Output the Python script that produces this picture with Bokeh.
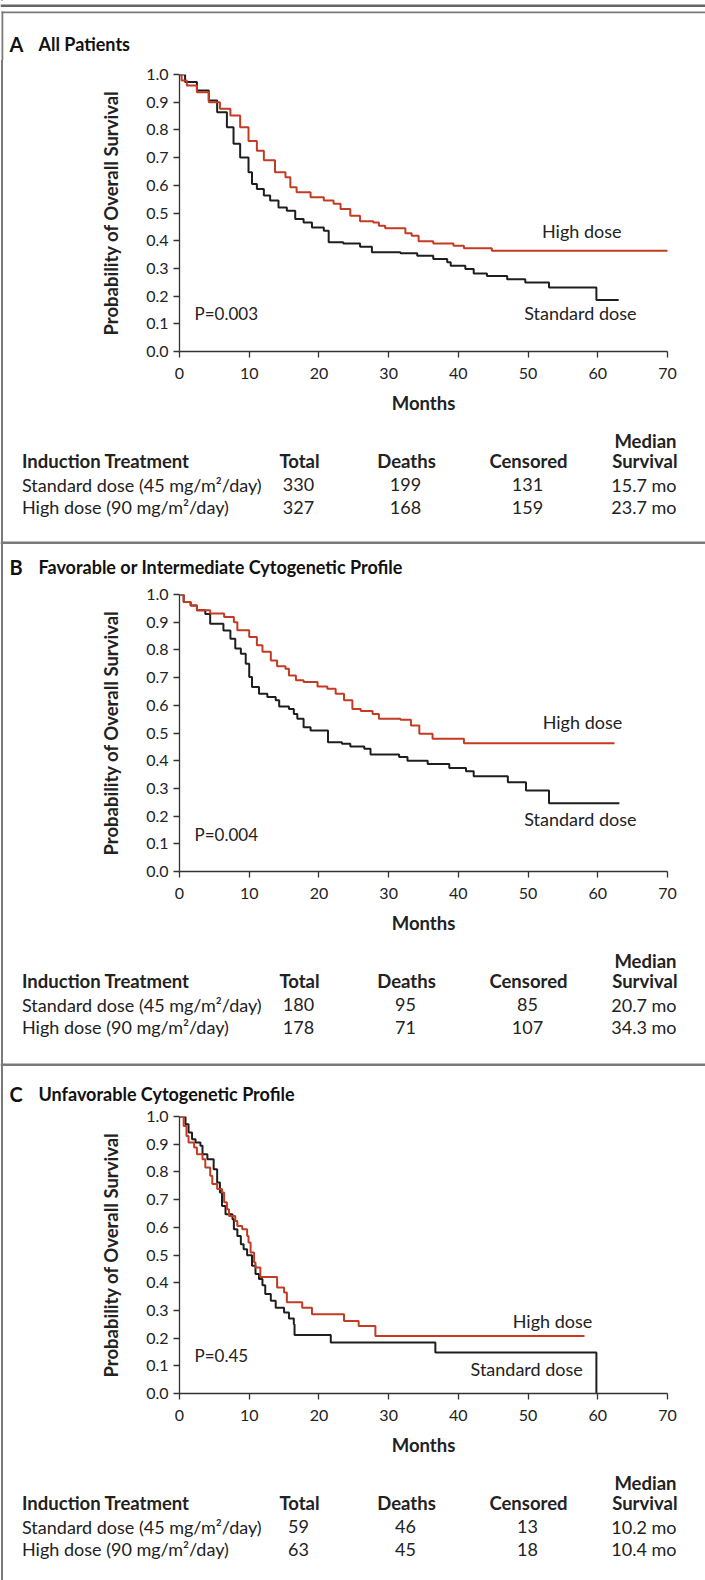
from bokeh.plotting import figure
from bokeh.layouts import column
from bokeh.models import FixedTicker, NumeralTickFormatter, Range1d, Label
from bokeh.core.properties import value
from bokeh.embed import file_html
from bokeh.resources import INLINE

FONT = "Lato"
RED = "#c23b22"
BLACK = "#1e1e1e"
TEXT = "#222222"
RULE = "#7a7a7a"

MONTH_TICKS = [0, 10, 20, 30, 40, 50, 60, 70]
PROB_TICKS = [0.0, 0.1, 0.2, 0.3, 0.4, 0.5, 0.6, 0.7, 0.8, 0.9, 1.0]

# ---- Panel A: All patients ----
A_STD_T = [0, 0.8, 2.5, 4.2, 5.4, 6.8, 7.75, 8.7, 9.9, 10.4, 11.1, 12.1, 13.0, 14.2, 15.4, 16.6, 17.8,
           19.0, 20.7, 21.4, 23.5, 25.9, 27.6, 31.7, 34.1, 36.4, 38.4, 38.9, 41.0, 42.2, 44.1, 47.0,
           49.6, 53.0, 59.8, 63.0]
A_STD_S = [1.0, 0.973, 0.942, 0.906, 0.864, 0.81, 0.75, 0.70, 0.647, 0.605, 0.587, 0.563, 0.545, 0.52,
           0.508, 0.478, 0.466, 0.448, 0.436, 0.394, 0.39, 0.378, 0.358, 0.355, 0.346, 0.334, 0.322,
           0.31, 0.298, 0.282, 0.273, 0.261, 0.249, 0.231, 0.186, 0.186]
A_HIGH_T = [0, 0.3, 1.05, 2.5, 4.2, 5.8, 7.3, 8.7, 9.9, 11.1, 12.1, 13.7, 15.2, 15.9, 16.8, 18.8, 20.7,
            22.1, 23.1, 24.5, 25.9, 27.8, 28.6, 29.5, 32.4, 33.3, 34.3, 36.4, 39.3, 40.8, 44.8, 70.3]
A_HIGH_S = [1.0, 0.978, 0.96, 0.936, 0.90, 0.876, 0.852, 0.81, 0.76, 0.725, 0.69, 0.647, 0.629, 0.593,
            0.575, 0.557, 0.545, 0.533, 0.514, 0.49, 0.47, 0.466, 0.454, 0.445, 0.427, 0.418, 0.398,
            0.39, 0.382, 0.373, 0.364, 0.364]
A_TOTAL = [330, 327]
A_DEATHS = [199, 168]
A_CENSORED = [131, 159]
A_MEDIAN = ["15.7 mo", "23.7 mo"]

# ---- Panel B: Favorable or intermediate ----
B_STD_T = [0, 0.6, 1.6, 2.5, 3.7, 4.4, 6.3, 7.3, 8.0, 8.8, 9.5, 10.0, 10.4, 11.4, 12.6, 13.8, 14.3, 15.7,
           16.4, 16.9, 17.8, 18.8, 21.3, 23.3, 24.5, 26.5, 27.4, 31.5, 32.7, 35.6, 38.7, 41.1, 42.2,
           47.1, 49.7, 53.0, 63.1]
B_STD_S = [1.0, 0.973, 0.96, 0.943, 0.93, 0.894, 0.87, 0.84, 0.805, 0.786, 0.75, 0.702, 0.666, 0.642,
           0.63, 0.618, 0.596, 0.587, 0.569, 0.551, 0.521, 0.509, 0.467, 0.461, 0.451, 0.443, 0.422,
           0.413, 0.40, 0.388, 0.374, 0.362, 0.344, 0.322, 0.292, 0.246, 0.246]
B_HIGH_T = [0, 0.6, 1.6, 2.5, 4.4, 6.4, 7.8, 8.3, 10.0, 11.1, 11.9, 13.1, 14.0, 15.2, 15.7, 16.7, 17.8,
            19.8, 21.2, 22.4, 23.6, 24.8, 26.0, 27.7, 28.6, 31.7, 33.2, 34.4, 36.3, 40.8, 62.4]
B_HIGH_S = [1.0, 0.973, 0.96, 0.943, 0.931, 0.919, 0.9, 0.871, 0.847, 0.817, 0.793, 0.762, 0.741, 0.732,
            0.708, 0.69, 0.684, 0.668, 0.66, 0.642, 0.618, 0.587, 0.579, 0.569, 0.551, 0.548, 0.527,
            0.497, 0.479, 0.463, 0.463]
B_TOTAL = [180, 178]
B_DEATHS = [95, 71]
B_CENSORED = [85, 107]
B_MEDIAN = ["20.7 mo", "34.3 mo"]

# ---- Panel C: Unfavorable ----
C_STD_T = [0, 0.86, 1.3, 1.8, 2.3, 3.0, 3.3, 4.0, 4.9, 5.4, 5.8, 6.1, 6.6, 7.6, 7.8, 8.3, 8.8, 9.2, 9.7,
           10.4, 10.9, 11.4, 11.9, 12.3, 13.1, 13.8, 15.0, 15.7, 16.4, 16.5, 21.7, 36.7, 59.8]
C_STD_S = [1.0, 0.972, 0.942, 0.918, 0.906, 0.894, 0.864, 0.846, 0.81, 0.762, 0.726, 0.677, 0.647, 0.629,
           0.593, 0.569, 0.539, 0.521, 0.499, 0.461, 0.431, 0.413, 0.391, 0.359, 0.335, 0.31, 0.292,
           0.271, 0.25, 0.211, 0.184, 0.148, 0.0]
C_HIGH_T = [0, 0.6, 1.0, 1.3, 2.1, 2.5, 3.3, 3.7, 4.4, 4.7, 5.4, 6.1, 6.4, 6.8, 7.1, 8.0, 8.3, 9.0, 9.7,
            9.9, 10.2, 10.7, 10.9, 11.6, 14.0, 15.0, 15.4, 17.6, 19.0, 23.6, 25.7, 28.1, 58.1]
C_HIGH_S = [1.0, 0.966, 0.93, 0.906, 0.888, 0.864, 0.846, 0.816, 0.786, 0.756, 0.738, 0.726, 0.69, 0.665,
            0.641, 0.623, 0.605, 0.593, 0.569, 0.545, 0.509, 0.473, 0.455, 0.421, 0.383, 0.365, 0.329,
            0.31, 0.286, 0.262, 0.244, 0.208, 0.208]
C_TOTAL = [59, 63]
C_DEATHS = [46, 45]
C_CENSORED = [13, 18]
C_MEDIAN = ["10.2 mo", "10.4 mo"]

ROW_LABELS = ["Standard dose (45 mg/m\u00b2/day)", "High dose (90 mg/m\u00b2/day)"]
HEADERS = ["Induction Treatment", "Total", "Deaths", "Censored", "Survival"]
HEADER_TOP = "Median"
TITLES = [("A", "All Patients"), ("B", "Favorable or Intermediate Cytogenetic Profile"),
          ("C", "Unfavorable Cytogenetic Profile")]

W = 705
FRAME_LEFT = 179
FRAME_W = 488
FRAME_H = 277


def no_align(f):
    try:
        f.frame_align = False
    except AttributeError:
        pass


def blank(h, opaque=False):
    f = figure(width=W, height=h, x_range=Range1d(0, W), y_range=Range1d(h, 0),
               output_backend="svg", toolbar_location=None, min_border=0,
               x_axis_location=None, y_axis_location=None)
    no_align(f)
    f.grid.visible = False
    f.outline_line_color = None
    if opaque:
        f.background_fill_color = "white"
        f.border_fill_color = "white"
    else:
        f.background_fill_alpha = 0
        f.border_fill_alpha = 0
    return f


def txt(f, x, y, s, size="18px", bold=False, align="left", baseline="middle", color=TEXT):
    f.text(x=[x], y=[y], text=[s], text_font=value(FONT), text_font_size=size,
           text_font_style="bold" if bold else "normal", text_color=color,
           text_align=align, text_baseline=baseline)


def header(h, idx, mid_y, first=False):
    f = blank(h, opaque=first)
    if first:
        f.quad(left=[0], right=[W], top=[4], bottom=[6.5], fill_color="#666666", line_color=None)
        f.quad(left=[1], right=[W], top=[11], bottom=[12.8], fill_color=RULE, line_color=None)
        f.quad(left=[1], right=[2.8], top=[11], bottom=[h], fill_color=RULE, line_color=None)
    else:
        f.quad(left=[0], right=[W], top=[1], bottom=[3.5], fill_color=RULE, line_color=None)
    letter, title = TITLES[idx]
    txt(f, 9, mid_y, letter, size="20px", bold=True, color="#111111")
    txt(f, 38, mid_y, title, size="18px", bold=True, color="#111111")
    return f


def plot(h, frame_top, std, high, high_lab, std_lab, ptext):
    p = figure(width=W, height=h, x_range=Range1d(0, 70), y_range=Range1d(0, 1.0),
               output_backend="svg", toolbar_location=None,
               min_border_left=FRAME_LEFT, min_border_right=W - FRAME_LEFT - FRAME_W,
               min_border_top=frame_top, min_border_bottom=h - frame_top - FRAME_H)
    no_align(p)
    p.outline_line_color = None
    p.grid.visible = False
    p.background_fill_alpha = 0
    p.border_fill_alpha = 0
    for ax in (p.xaxis[0], p.yaxis[0]):
        ax.axis_line_color = "#333333"
        ax.axis_line_width = 1.3
        ax.major_tick_line_color = "#333333"
        ax.major_tick_line_width = 1.3
        ax.major_tick_out = 6
        ax.major_tick_in = 0
        ax.minor_tick_line_color = None
        ax.major_label_text_font = FONT
        ax.major_label_text_font_size = "16px"
        ax.major_label_text_color = TEXT
        ax.axis_label_text_font = FONT
        ax.axis_label_text_font_size = "18.5px"
        ax.axis_label_text_font_style = "bold"
        ax.axis_label_text_color = TEXT
    p.xaxis.ticker = FixedTicker(ticks=MONTH_TICKS)
    p.yaxis.ticker = FixedTicker(ticks=PROB_TICKS)
    p.yaxis.formatter = NumeralTickFormatter(format="0.0")
    p.xaxis.axis_label = "Months"
    p.yaxis.axis_label = "Probability of Overall Survival"
    p.xaxis.major_label_standoff = 10
    p.yaxis.major_label_standoff = 5
    p.xaxis.axis_label_standoff = 10
    p.yaxis.axis_label_standoff = 21

    p.step(std[0], std[1], mode="after", line_color=BLACK, line_width=2)
    p.step(high[0], high[1], mode="after", line_color=RED, line_width=2)

    for (x, y), s in ((high_lab, "High dose"), (std_lab, "Standard dose")):
        p.add_layout(Label(x=x, y=y, text=s, text_font=FONT, text_font_size="18px",
                           text_color=TEXT, text_align="center", text_baseline="middle"))
    p.add_layout(Label(x=2.15, y=ptext[1], text=ptext[0], text_font=FONT, text_font_size="17px",
                       text_color=TEXT, text_align="left", text_baseline="middle"))
    return p


def table(h, total, deaths, cens, median):
    f = blank(h)
    txt(f, 676, 22, HEADER_TOP, size="18.5px", bold=True, align="right")
    hy = 42
    txt(f, 21.5, hy, HEADERS[0], size="18.5px", bold=True)
    txt(f, 299, hy, HEADERS[1], size="18.5px", bold=True, align="center")
    txt(f, 406, hy, HEADERS[2], size="18.5px", bold=True, align="center")
    txt(f, 528, hy, HEADERS[3], size="18.5px", bold=True, align="center")
    txt(f, 677, hy, HEADERS[4], size="18.5px", bold=True, align="right")
    for i, ry in enumerate([66, 88.5]):
        txt(f, 21.5, ry, ROW_LABELS[i])
        txt(f, 298, ry, str(total[i]), align="center")
        txt(f, 405, ry, str(deaths[i]), align="center")
        txt(f, 527, ry, str(cens[i]), align="center")
        txt(f, 676, ry, median[i], align="right")
    return f


hA = header(60, 0, 43.5, first=True)
pA = plot(358, 14, (A_STD_T, A_STD_S), (A_HIGH_T, A_HIGH_S), (57.7, 0.434), (57.5, 0.138), ("P=0.003", 0.136))
tA = table(122, A_TOTAL, A_DEATHS, A_CENSORED, A_MEDIAN)

hB = header(42, 1, 26.5)
pB = plot(356, 12, (B_STD_T, B_STD_S), (B_HIGH_T, B_HIGH_S), (57.8, 0.54), (57.5, 0.189), ("P=0.004", 0.132))
tB = table(124, B_TOTAL, B_DEATHS, B_CENSORED, B_MEDIAN)

hC = header(44, 2, 31.5)
pC = plot(354, 10, (C_STD_T, C_STD_S), (C_HIGH_T, C_HIGH_S), (53.5, 0.26), (49.8, 0.09), ("P=0.45", 0.137))
tC = table(120, C_TOTAL, C_DEATHS, C_CENSORED, C_MEDIAN)

layout = column(hA, pA, tA, hB, pB, tB, hC, pC, tC, spacing=0,
                styles={"background": "linear-gradient(90deg, #ffffff 0px, #ffffff 1px, #7a7a7a 1px, "
                                      "#7a7a7a 2.8px, #ffffff 2.8px, #ffffff 100%)"})
open("out.html", "w").write(file_html(layout, INLINE))
